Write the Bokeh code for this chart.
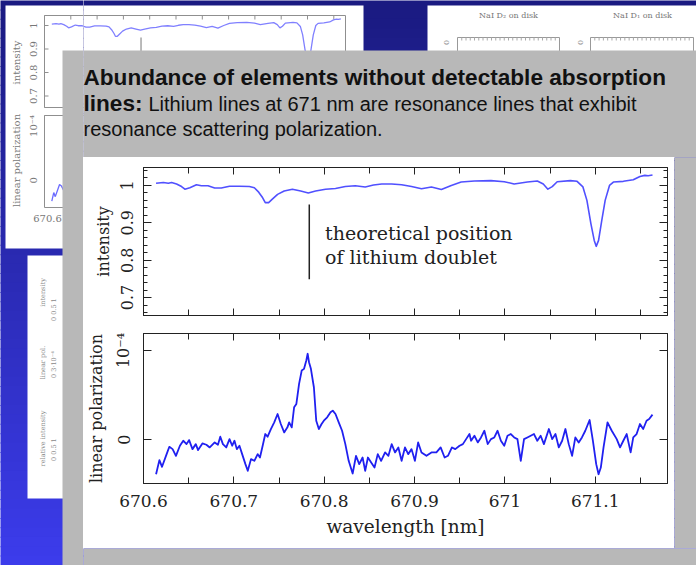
import math
from bokeh.plotting import figure
from bokeh.models import Range1d, LinearAxis, FixedTicker, CustomJSTickFormatter
from bokeh.layouts import column, row
from bokeh.embed import file_html
from bokeh.resources import INLINE
from bokeh.core.properties import value

# ---------------- data ----------------
wl_int = [670.6139, 670.6220, 670.6275, 670.6311, 670.6366, 670.6421, 670.6458, 670.6513, 670.6586, 670.6641,
          670.6714, 670.6788, 670.6861, 670.6952, 670.7062, 670.7172, 670.7227, 670.7275, 670.7319, 670.7348,
          670.7385, 670.7429, 670.7484, 670.7557, 670.7648, 670.7740, 670.7824, 670.7905, 670.8015, 670.8125,
          670.8234, 670.8344, 670.8454, 670.8546, 670.8637, 670.8747, 670.8857, 670.8967, 670.9077, 670.9187,
          670.9297, 670.9407, 670.9516, 670.9663, 670.9846, 670.9993, 671.0103, 671.0249, 671.0359, 671.0425,
          671.0476, 671.0524, 671.0579, 671.0725, 671.0799, 671.0864, 671.0908, 671.0952, 671.0989, 671.1011,
          671.1037, 671.1073, 671.1110, 671.1158, 671.1201, 671.1311, 671.1421, 671.1495, 671.1549, 671.1586,
          671.1634]
intensity = [1.006, 1.008, 1.006, 1.008, 1.004, 0.997, 0.990, 0.994, 1.002, 0.999,
             0.999, 0.993, 0.993, 0.998, 0.998, 0.997, 0.994, 0.982, 0.967, 0.954,
             0.954, 0.964, 0.976, 0.985, 0.990, 0.985, 0.980, 0.985, 0.990, 0.992,
             0.997, 0.999, 0.996, 1.001, 1.004, 1.004, 1.002, 0.997, 0.991, 0.996,
             0.989, 1.000, 1.009, 1.012, 1.013, 1.010, 1.004, 1.009, 1.012, 1.004,
             0.990, 0.997, 1.010, 1.013, 1.011, 0.996, 0.960, 0.898, 0.853, 0.837,
             0.853, 0.907, 0.960, 1.000, 1.009, 1.011, 1.015, 1.024, 1.027, 1.026,
             1.028]

wl_pol = [670.6139, 670.6176, 670.6205, 670.6256, 670.6286, 670.6322, 670.6359, 670.6403, 670.6440, 670.6476,
          670.6505, 670.6542, 670.6579, 670.6604, 670.6652, 670.6696, 670.6733, 670.6788, 670.6824, 670.6850,
          670.6879, 670.6916, 670.6952, 670.6982, 670.7007, 670.7033, 670.7062, 670.7092, 670.7128, 670.7154,
          670.7190, 670.7227, 670.7264, 670.7289, 670.7319, 670.7348, 670.7374, 670.7410, 670.7447, 670.7484,
          670.7520, 670.7557, 670.7593, 670.7612, 670.7641, 670.7667, 670.7692, 670.7722, 670.7751, 670.7777,
          670.7802, 670.7817, 670.7832, 670.7853, 670.7886, 670.7912, 670.7941, 670.7971, 670.7996, 670.8033,
          670.8070, 670.8095, 670.8125, 670.8161, 670.8198, 670.8234, 670.8271, 670.8315, 670.8352, 670.8388,
          670.8425, 670.8454, 670.8484, 670.8520, 670.8557, 670.8593, 670.8630,
          670.8674, 670.8711, 670.8747, 670.8784, 670.8821, 670.8857, 670.8894, 670.8930, 670.8967, 670.9004,
          670.9040, 670.9077, 670.9132, 670.9187, 670.9242, 670.9289, 670.9333, 670.9370, 670.9414, 670.9451,
          670.9498, 670.9535, 670.9571, 670.9608, 670.9626, 670.9663, 670.9700, 670.9736, 670.9773, 670.9810,
          670.9846, 670.9883, 670.9919, 670.9956, 670.9993, 671.0029, 671.0066, 671.0103, 671.0139, 671.0176,
          671.0212, 671.0249, 671.0286, 671.0322, 671.0359, 671.0396, 671.0432, 671.0487, 671.0524, 671.0560,
          671.0597, 671.0634, 671.0670, 671.0707, 671.0744, 671.0780, 671.0817, 671.0853, 671.0890, 671.0938,
          671.0974, 671.1011, 671.1037, 671.1062, 671.1092, 671.1136, 671.1183, 671.1238, 671.1275, 671.1311,
          671.1348, 671.1392, 671.1421, 671.1458, 671.1495, 671.1531, 671.1568, 671.1597, 671.1634]
# linear polarization in units of 1e-4
pol_e4 = [-0.386, -0.228, -0.303, -0.161, -0.079, -0.105, -0.180, -0.067, -0.011, -0.049,
          -0.004, -0.105, -0.049, -0.116, -0.041, -0.056, -0.086, -0.030, -0.056, 0.034,
          -0.049, -0.086, 0.007, -0.067, -0.011, -0.105, -0.067, -0.161, -0.273, -0.348,
          -0.217, -0.236, -0.161, -0.199, -0.067, 0.064, 0.034, 0.120, 0.195, 0.288,
          0.176, 0.082, 0.139, 0.195, 0.139, 0.363, 0.401, 0.625, 0.775, 0.794,
          0.888, 0.963, 0.869, 0.794, 0.588, 0.213, 0.120, 0.176, 0.213, 0.251,
          0.307, 0.326, 0.288, 0.195, 0.101, -0.049, -0.236, -0.378, -0.180, -0.273,
          -0.199, -0.348, -0.199, -0.255, -0.311, -0.161, -0.236,
          -0.142, -0.180, -0.049, -0.142, -0.086, -0.236, -0.086, -0.161, -0.105, -0.236,
          -0.030, -0.142, -0.180, -0.142, -0.142, -0.086, -0.199, -0.180, -0.086, -0.105,
          -0.067, -0.049, 0.007, 0.064, -0.011, 0.045, -0.030, 0.026, 0.101, -0.049,
          0.007, 0.026, 0.101, -0.011, -0.067, 0.045, 0.064, 0.026, 0.007, -0.236,
          0.007, 0.026, 0.045, 0.064, -0.011, 0.045, -0.049, 0.120, 0.007, 0.064,
          -0.086, -0.011, 0.120, -0.049, -0.180, 0.026, -0.030, 0.026, 0.101, 0.221,
          -0.011, -0.273, -0.386, -0.311, -0.086, 0.195, 0.101, 0.007, -0.086, -0.011,
          0.064, -0.142, 0.026, 0.064, 0.176, 0.120, 0.213, 0.232, 0.281]

x_major = [670.6, 670.7, 670.8, 670.9, 671.0, 671.1]
x_minor = [670.65, 670.75, 670.85, 670.95, 671.05, 671.15]
int_major = [0.7, 0.8, 0.9, 1.0]
int_minor = [0.66, 0.68, 0.72, 0.74, 0.76, 0.78, 0.82, 0.84, 0.86, 0.88,
             0.92, 0.94, 0.96, 0.98, 1.02, 1.04]
pol_major = [0, 1]
li_wl = 670.7835
li_mark = [0.749, 0.949]
note_lines = ["theoretical position", "of lithium doublet"]
note_x = 670.801
note_y = [0.872, 0.808]

title_1 = "Abundance of elements without detectable absorption"
title_2b = "lines:"
title_2 = "Lithium lines at 671 nm are resonance lines that exhibit"
title_3 = "resonance scattering polarization."

# ---------------- page decoration ----------------
PAGE_W, PAGE_H = 696, 565
SERIF = value("DejaVu Serif")
SANS = value("Liberation Sans")


def mix(c0, c1, t):
    return "#%02x%02x%02x" % tuple(int(round(a + (b - a) * t)) for a, b in zip(c0, c1))


def draw_page(f, bounds):
    bx0, bx1, by0, by1 = bounds

    def put_text(xs, ys, texts, **kw):
        keep = [i for i in range(len(xs)) if bx0 <= xs[i] < bx1 and by0 <= ys[i] < by1]
        if keep:
            f.text(x=[xs[i] for i in keep], y=[ys[i] for i in keep],
                   text=[texts[i] for i in keep], **kw)

    n = 60
    tops = [PAGE_H * i / n - 0.5 for i in range(n)]
    bots = [PAGE_H * (i + 1) / n + 0.5 for i in range(n)]
    cols = [mix((0x1a, 0x1a, 0x80), (0x3c, 0x3c, 0xec), (i + 0.5) / n) for i in range(n)]
    f.quad(left=-5, right=PAGE_W + 5, top=tops, bottom=bots, fill_color=cols, line_color=None)

    # upper-left faded slide panel with a miniature of the same plot
    f.quad(left=5, right=363, top=5, bottom=248, fill_color="white", line_color=None)
    mx = lambda w: 44 + (w - 670.6) * 526
    myi = lambda v: 25 + (1 - v) * 235
    myp = lambda v: 179.7 - 54.3 * v
    fc = "#8f8f8f"
    grey_txt = dict(text_font=SERIF, text_font_size="10px", text_color="#777777",
                    text_align="center", text_baseline="middle")
    f.quad(left=44, right=345, top=15, bottom=107, fill_color=None, line_color=fc, line_width=1)
    f.quad(left=44, right=345, top=115, bottom=207, fill_color=None, line_color=fc, line_width=1)
    tx = [mx(t) for t in x_major + x_minor]
    f.segment(x0=tx, y0=[15] * len(tx), x1=tx, y1=[19] * len(tx), line_color=fc)
    f.segment(x0=tx, y0=[107] * len(tx), x1=tx, y1=[103] * len(tx), line_color=fc)
    f.segment(x0=tx, y0=[115] * len(tx), x1=tx, y1=[119] * len(tx), line_color=fc)
    ty = [myi(t) for t in int_major]
    f.segment(x0=[44] * 4, y0=ty, x1=[48] * 4, y1=ty, line_color=fc)
    f.line([mx(w) for w in wl_int], [myi(v) for v in intensity], line_color="#8080ff", line_width=1.3)
    f.line([mx(w) for w in wl_pol], [myp(v) for v in pol_e4], line_color="#6a6aff", line_width=1.3)
    f.segment(x0=[mx(li_wl)], y0=[myi(li_mark[1])], x1=[mx(li_wl)], y1=[myi(li_mark[0])],
              line_color="#777777", line_width=1)
    put_text([33] * 4, ty, ["0.7", "0.8", "0.9", "1"], angle=math.pi / 2, **grey_txt)
    put_text([33, 33], [myp(1), myp(0)], ["10⁻⁴", "0"], angle=math.pi / 2, **grey_txt)
    put_text([16, 16], [62, 160], ["intensity", "linear polarization"], angle=math.pi / 2, **grey_txt)
    put_text([47], [218], ["670.6"], **grey_txt)

    # upper-right faded slide panel
    f.quad(left=427, right=PAGE_W + 5, top=5, bottom=60, fill_color="white", line_color=None)
    put_text([508, 642], [15, 15], ["NaI D₂ on disk", "NaI D₁ on disk"],
             text_font=SERIF, text_font_size="8px", text_color="#777777",
             text_align="center", text_baseline="middle")
    f.quad(left=[457, 590], right=[559, 693], top=[37, 37], bottom=[80, 80],
           fill_color=None, line_color="#999999", line_width=1)
    for x0, x1 in ((457, 559), (590, 693)):
        xs = [x0 + (x1 - x0) * k / 24 for k in range(1, 24)]
        f.segment(x0=xs, y0=[37] * len(xs), x1=xs, y1=[40] * len(xs), line_color="#aaaaaa")
    put_text([446, 580], [42, 42], ["0", "0"], angle=math.pi / 2,
             text_font=SERIF, text_font_size="8px", text_color="#888888",
             text_align="center", text_baseline="middle")

    # left small faded panel
    f.quad(left=27, right=66, top=255, bottom=498, fill_color="white", line_color=None)
    small = dict(angle=math.pi / 2, text_font=SERIF, text_font_size="6.5px", text_color="#888888",
                 text_align="center", text_baseline="middle")
    put_text([42, 42, 42], [438, 362, 292], ["relative intensity", "linear pol.", "intensity"], **small)
    put_text([53, 53, 53], [445, 362, 305], ["0   0.5   1", "0   3·10⁻⁴", "0   0.5   1"], **small)

    # grey slide panel
    f.quad(left=62, right=PAGE_W + 5, top=50, bottom=PAGE_H + 5, fill_color="#b8b8b8", line_color=None)

    # slide text
    put_text([83], [77], [title_1], text_font=SANS, text_font_style="bold",
             text_font_size="22.6px", text_color="#111111", text_baseline="middle")
    put_text([83], [103], [title_2b], text_font=SANS, text_font_style="bold",
             text_font_size="22.6px", text_color="#111111", text_baseline="middle")
    put_text([148], [103], [title_2], text_font=SANS,
             text_font_size="20px", text_color="#111111", text_baseline="middle")
    put_text([83], [128], [title_3], text_font=SANS,
             text_font_size="20px", text_color="#111111", text_baseline="middle")


def deco(x0, x1, y0, y1):
    f = figure(width=x1 - x0, height=y1 - y0, x_range=Range1d(x0, x1), y_range=Range1d(y1, y0),
               x_axis_type=None, y_axis_type=None, toolbar_location=None, output_backend="svg",
               min_border=0, outline_line_color=None, border_fill_color="#b8b8b8")
    f.min_border_left = f.min_border_right = f.min_border_top = f.min_border_bottom = 0
    draw_page(f, (x0, x1, y0, y1))
    return f


# ---------------- the two data plots ----------------
INK = "#222222"
fmt_num = CustomJSTickFormatter(code="return Number(tick.toFixed(3)).toString();")
fmt_pol = CustomJSTickFormatter(code="return Math.abs(tick) < 1e-9 ? '0' : '10\u207b\u2074';")


def style_axis(ax, labels=True, tick_in=7, minor_in=4):
    ax.major_tick_in = tick_in
    ax.major_tick_out = 0
    ax.minor_tick_in = minor_in
    ax.minor_tick_out = 0
    ax.axis_line_color = INK
    ax.major_tick_line_color = INK
    ax.minor_tick_line_color = INK
    ax.major_label_text_font = "DejaVu Serif"
    ax.axis_label_text_font = "DejaVu Serif"
    ax.axis_label_text_font_style = "normal"
    ax.axis_label_text_color = INK
    if labels:
        ax.major_label_text_color = INK
        ax.major_label_text_font_size = "17px"
        ax.major_label_standoff = 11
    else:
        # mirrored tick axis: labels not drawn at all
        ax.major_label_text_color = None
        ax.major_label_text_font_size = "1px"
        ax.major_label_standoff = 0


def plot_fig(height, y_range, top_border, bottom_border):
    p = figure(width=591, height=height, x_range=Range1d(670.6, 671.18), y_range=y_range,
               x_axis_type=None, y_axis_type=None, toolbar_location=None, output_backend="svg",
               background_fill_color="white", border_fill_color="white",
               outline_line_color=INK, outline_line_width=1)
    p.min_border_left = 57
    p.min_border_right = 7
    p.min_border_top = top_border
    p.min_border_bottom = bottom_border
    p.xgrid.visible = False
    p.ygrid.visible = False
    return p


def x_axis(labels, label_text=None):
    ax = LinearAxis(ticker=FixedTicker(ticks=x_major, minor_ticks=x_minor), formatter=fmt_num)
    style_axis(ax, labels=labels, tick_in=7, minor_in=6)
    if label_text:
        ax.axis_label = label_text
        ax.axis_label_text_font_size = "18.5px"
        ax.axis_label_standoff = 6
    return ax


def y_axis_left(ticks, minor, fmt, label_text):
    ax = LinearAxis(ticker=FixedTicker(ticks=ticks, minor_ticks=minor), formatter=fmt)
    style_axis(ax, labels=True, tick_in=8, minor_in=4)
    ax.major_label_text_font_size = "16px"
    ax.major_label_standoff = 10
    ax.major_label_orientation = "parallel"
    ax.axis_label = label_text
    ax.axis_label_text_font_size = "16px"
    ax.axis_label_standoff = 6
    return ax


# intensity panel
p1 = plot_fig(168, Range1d(0.652, 1.048), 10, 10)
p1.add_layout(y_axis_left(int_major, int_minor, fmt_num, "intensity"), "left")
ry = LinearAxis(ticker=FixedTicker(ticks=int_major, minor_ticks=int_minor), formatter=fmt_num)
style_axis(ry, labels=False, tick_in=8, minor_in=4)
p1.add_layout(ry, "right")
p1.add_layout(x_axis(False), "below")
p1.add_layout(x_axis(False), "above")
p1.line(wl_int, intensity, line_color="#5050ff", line_width=1.6, line_join="round")
p1.segment(x0=[li_wl], y0=[li_mark[0]], x1=[li_wl], y1=[li_mark[1]], line_color=INK, line_width=1.5)
p1.text(x=[note_x, note_x], y=note_y, text=note_lines, text_font=SERIF, text_font_size="19px",
        text_color=INK, text_baseline="middle")

# polarization panel
p2 = plot_fig(223, Range1d(-0.49, 1.19), 8, 65)
p2.add_layout(y_axis_left(pol_major, [], fmt_pol, "linear polarization"), "left")
ry2 = LinearAxis(ticker=FixedTicker(ticks=pol_major), formatter=fmt_pol)
style_axis(ry2, labels=False, tick_in=8, minor_in=0)
p2.add_layout(ry2, "right")
p2.add_layout(x_axis(True, "wavelength [nm]"), "below")
p2.add_layout(x_axis(False), "above")
p2.line(wl_pol, pol_e4, line_color="#2020f0", line_width=1.8, line_join="round")

# ---------------- assemble the slide ----------------
left = deco(0, 83, 0, PAGE_H)
header = deco(83, PAGE_W, 0, 157)
right = deco(674, PAGE_W, 157, 548)
footer = deco(83, PAGE_W, 548, PAGE_H)

layout = row(left,
             column(header,
                    row(column(p1, p2, spacing=0), right, spacing=0),
                    footer, spacing=0),
             spacing=0)

open("out.html", "w").write(file_html(layout, INLINE))
